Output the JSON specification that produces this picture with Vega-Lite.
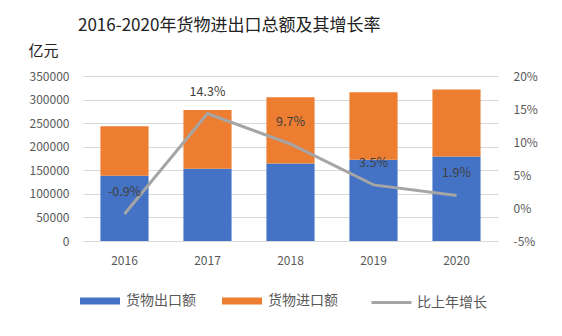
{
  "$schema": "https://vega.github.io/schema/vega-lite/v6.json",
  "width": 415,
  "height": 165,
  "autosize": {"type": "none"},
  "padding": {"left": 83, "top": 76, "right": 64, "bottom": 95},
  "background": "white",
  "config": {
    "view": {"stroke": null},
    "font": "Noto Sans CJK SC",
    "axis": {"labelFont": "Noto Sans CJK SC", "labelColor": "#595959", "labelFontSize": 12, "domain": false, "ticks": false},
    "legend": {"labelFont": "Noto Sans CJK SC", "labelColor": "#595959", "labelFontSize": 14, "padding": 0}
  },
  "title": {
    "text": "2016-2020年货物进出口总额及其增长率",
    "anchor": "start",
    "frame": "group",
    "dx": -5,
    "offset": 8,
    "fontSize": 17,
    "fontWeight": "normal",
    "color": "#222222",
    "font": "Noto Sans CJK SC"
  },
  "datasets": {
    "trade": [
      {"year": "2016", "series": "货物出口额", "value": 138419},
      {"year": "2016", "series": "货物进口额", "value": 104967},
      {"year": "2017", "series": "货物出口额", "value": 153321},
      {"year": "2017", "series": "货物进口额", "value": 124602},
      {"year": "2018", "series": "货物出口额", "value": 164177},
      {"year": "2018", "series": "货物进口额", "value": 140874},
      {"year": "2019", "series": "货物出口额", "value": 172342},
      {"year": "2019", "series": "货物进口额", "value": 143162},
      {"year": "2020", "series": "货物出口额", "value": 179326},
      {"year": "2020", "series": "货物进口额", "value": 142231}
    ],
    "growth": [
      {"year": "2016", "growth": -0.9, "label": "-0.9%"},
      {"year": "2017", "growth": 14.3, "label": "14.3%"},
      {"year": "2018", "growth": 9.7, "label": "9.7%"},
      {"year": "2019", "growth": 3.5, "label": "3.5%"},
      {"year": "2020", "growth": 1.9, "label": "1.9%"}
    ]
  },
  "encoding": {
    "x": {
      "field": "year",
      "type": "ordinal",
      "scale": {"paddingInner": 0.42, "paddingOuter": 0.21},
      "axis": {"title": null, "labelAngle": 0, "labelPadding": 14}
    }
  },
  "layer": [
    {
      "data": {"name": "trade"},
      "mark": {"type": "bar"},
      "encoding": {
        "y": {
          "field": "value",
          "type": "quantitative",
          "stack": "zero",
          "scale": {"domain": [0, 350000], "nice": false},
          "axis": {
            "values": [0, 50000, 100000, 150000, 200000, 250000, 300000, 350000],
            "format": "d",
            "grid": true,
            "gridColor": "#d9d9d9",
            "labelPadding": 14,
            "title": "亿元",
            "titleAngle": 0,
            "titleX": -55,
            "titleY": -26,
            "titleAlign": "left",
            "titleBaseline": "middle",
            "titleFontSize": 15,
            "titleFontWeight": "normal",
            "titleColor": "#222222",
            "titleFont": "Noto Sans CJK SC"
          }
        },
        "order": {"field": "series", "sort": "ascending"},
        "color": {
          "field": "series",
          "type": "nominal",
          "scale": {"domain": ["货物出口额", "货物进口额"], "range": ["#4472C4", "#ED7D31"]},
          "legend": {
            "title": null,
            "orient": "none",
            "direction": "horizontal",
            "legendX": -3,
            "legendY": 205,
            "symbolType": "M-1,-0.18L1,-0.18L1,0.18L-1,0.18Z",
            "symbolSize": 1600,
            "symbolStrokeWidth": 0,
            "labelOffset": 6,
            "columnPadding": 26
          }
        }
      }
    },
    {
      "data": {"name": "growth"},
      "mark": {"type": "line", "strokeWidth": 3},
      "encoding": {
        "y": {
          "field": "growth",
          "type": "quantitative",
          "scale": {"domain": [-5, 20], "nice": false},
          "axis": {
            "orient": "right",
            "values": [-5, 0, 5, 10, 15, 20],
            "labelExpr": "datum.value + '%'",
            "grid": false,
            "labelPadding": 15,
            "title": null
          }
        },
        "stroke": {
          "datum": "比上年增长",
          "type": "nominal",
          "scale": {"range": ["#A5A5A5"]},
          "legend": {
            "title": null,
            "orient": "none",
            "legendX": 287,
            "legendY": 205,
            "symbolType": "stroke",
            "symbolSize": 1600,
            "symbolStrokeWidth": 3,
            "labelOffset": 4
          }
        }
      }
    },
    {
      "data": {"name": "growth"},
      "mark": {"type": "text", "dy": -22, "fontSize": 12.5, "color": "#404040", "font": "Noto Sans CJK SC"},
      "encoding": {
        "y": {"field": "growth", "type": "quantitative", "scale": {"domain": [-5, 20], "nice": false}, "axis": null},
        "text": {"field": "label"}
      }
    }
  ],
  "resolve": {"scale": {"y": "independent", "color": "independent"}}
}
